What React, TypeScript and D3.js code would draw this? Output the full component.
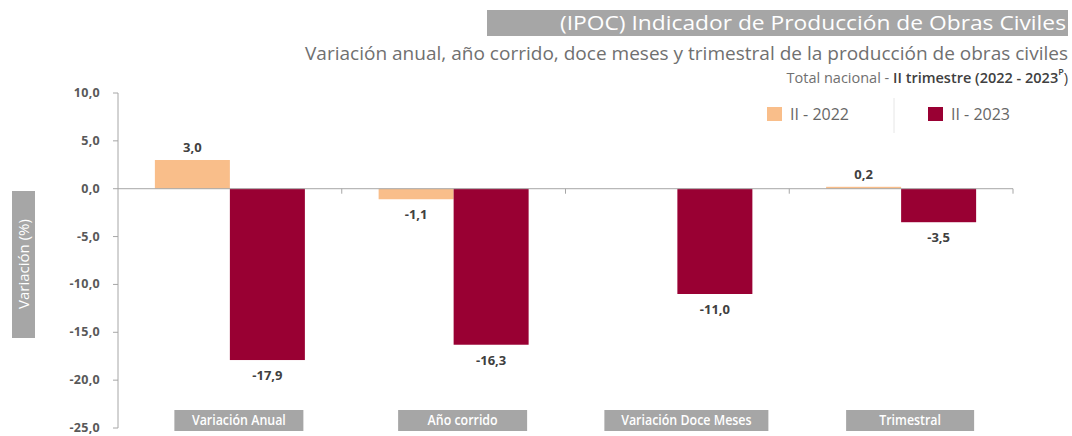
import React from "react";
import * as d3 from "d3";

const categories = ["Variación Anual", "Año corrido", "Variación Doce Meses", "Trimestral"];
const series2022: (number | null)[] = [3.0, -1.1, null, 0.2];
const series2023: number[] = [-17.9, -16.3, -11.0, -3.5];
const yTicks = [10, 5, 0, -5, -10, -15, -20, -25];
const seriesNames = ["II - 2022", "II - 2023"];
const colors = ["#F9BE8A", "#990033"];

const W = 1072;
const H = 436;
const plotLeft = 118;
const plotRight = 1013;
const plotTop = 93;
const plotBottom = 428;

const fmt = (v: number) => v.toFixed(1).replace(".", ",");

export default function App() {
  const y = d3.scaleLinear().domain([-25, 10]).range([plotBottom, plotTop]);
  const x0 = d3.scaleBand<string>().domain(categories).range([plotLeft, plotRight]).paddingInner(0).paddingOuter(0);
  const bw = x0.bandwidth();
  const barW = 75;
  const x1 = d3.scaleBand<string>().domain(seriesNames).range([bw / 2 - barW, bw / 2 + barW]);
  const zero = y(0);
  const labelBoxW = [129, 129, 164, 128];
  const font = "'Open Sans', 'Noto Sans', sans-serif";

  return (
    <svg width={W} height={H} style={{ display: "block", position: "absolute", left: 0, top: 0 }} fontFamily={font}>
      <rect width={W} height={H} fill="#fff" />
      {/* Title */}
      <rect x={487} y={10} width={581} height={26} fill="#A6A6A6" />
      <text x={560} y={30} textLength={506} lengthAdjust="spacingAndGlyphs" fill="#fff" fontSize={20}>
        (IPOC) Indicador de Producción de Obras Civiles
      </text>
      <text x={305} y={60} textLength={763} lengthAdjust="spacingAndGlyphs" fill="#707070" fontSize={17.5}>
        Variación anual, año corrido, doce meses y trimestral de la producción de obras civiles
      </text>
      <text x={1068} y={83} textAnchor="end" fill="#707070" fontSize={14.5}>
        <tspan>Total nacional - </tspan>
        <tspan fontWeight={600} fill="#404040">II trimestre (2022 - 2023</tspan>
        <tspan fontSize={9} dy={-8} fontWeight={600} fill="#404040">P</tspan>
        <tspan dy={8} fill="#404040">)</tspan>
      </text>

      {/* Legend */}
      <rect x={767} y={107} width={15} height={14} fill={colors[0]} />
      <text x={790} y={120} fontSize={16} fill="#666">{seriesNames[0]}</text>
      <line x1={894} x2={894} y1={98} y2={133} stroke="#E6E6E6" />
      <rect x={928} y={107} width={15} height={14} fill={colors[1]} />
      <text x={951} y={120} fontSize={16} fill="#666">{seriesNames[1]}</text>

      {/* Y axis label */}
      <rect x={12} y={191} width={23} height={147} fill="#A6A6A6" />
      <text transform={`translate(29,264) rotate(-90)`} textAnchor="middle" fill="#fff" fontSize={15}>
        Variación (%)
      </text>

      {/* Y axis */}
      <line x1={plotLeft} x2={plotLeft} y1={plotTop} y2={plotBottom} stroke="#A6A6A6" />
      {yTicks.map((t) => (
        <g key={t}>
          <line x1={plotLeft - 5} x2={plotLeft} y1={y(t)} y2={y(t)} stroke="#A6A6A6" />
          <text x={100} y={y(t) + 4} textAnchor="end" fontSize={12.5} fontWeight={700} fill="#595959" letterSpacing={0.3}>
            {fmt(t)}
          </text>
        </g>
      ))}

      {/* Bars */}
      {categories.map((c, i) => {
        const bx = x0(c)!;
        const vals = [series2022[i], series2023[i]];
        return (
          <g key={c}>
            {vals.map((v, j) => {
              if (v === null) return null;
              const xx = bx + x1(seriesNames[j])!;
              const h = Math.max(Math.abs(y(v) - zero), 1.5);
              const ly = v >= 0 ? y(v) - 8 : y(v) + 20;
              return (
                <g key={j}>
                  <rect x={xx} y={v >= 0 ? zero - h : zero} width={x1.bandwidth()} height={h} fill={colors[j]} />
                  <text x={xx + x1.bandwidth() / 2} y={ly} textAnchor="middle" fontSize={13} fontWeight={700} fill="#404040">
                    {fmt(v)}
                  </text>
                </g>
              );
            })}
          </g>
        );
      })}

      {/* Zero line */}
      <line x1={plotLeft} x2={plotRight} y1={zero} y2={zero} stroke="#A6A6A6" />
      {categories.map((c) => (
        <line key={c} x1={x0(c)! + bw} x2={x0(c)! + bw} y1={zero} y2={zero + 5} stroke="#A6A6A6" />
      ))}

      {/* Category labels */}
      {categories.map((c, i) => {
        const cx = x0(c)! + bw / 2 + 9;
        const w = labelBoxW[i];
        return (
          <g key={c}>
            <rect x={cx - w / 2} y={410} width={w} height={21} fill="#A6A6A6" />
            <text x={cx} y={425} textAnchor="middle" fill="#fff" fontSize={13.5} fontWeight={600}
              transform={`translate(${cx},0) scale(0.92,1) translate(${-cx},0)`}>
              {c}
            </text>
          </g>
        );
      })}
    </svg>
  );
}
